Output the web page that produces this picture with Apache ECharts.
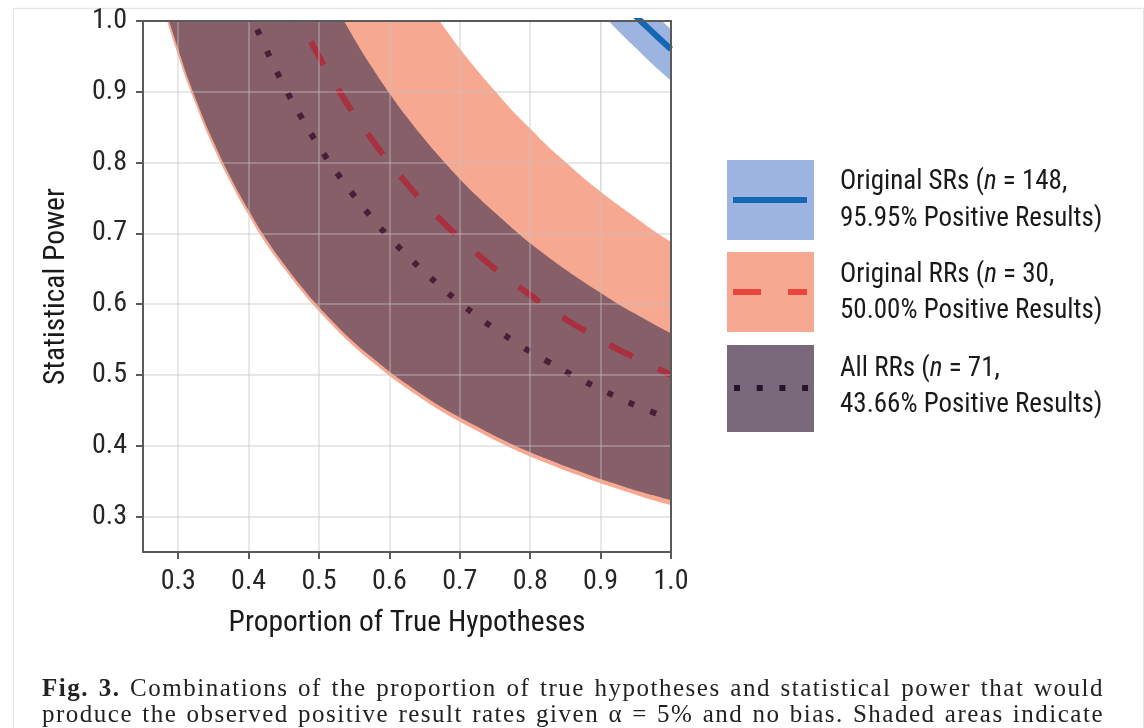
<!DOCTYPE html>
<html>
<head>
<meta charset="utf-8">
<script src="https://cdn.jsdelivr.net/npm/echarts@6/dist/echarts.min.js"></script>
<style>
  html, body { margin: 0; padding: 0; background: #fff; overflow: hidden; }
  #frame { position: absolute; left: 13px; top: 8px; width: 1129px; height: 760px;
           border: 1px solid #e4e4e4; box-shadow: 0 0 3px rgba(0,0,0,0.06); }
  #chart { position: absolute; left: 0; top: 0; width: 1144px; height: 728px; }
  .cap { position: absolute; left: 42px; width: 1062px; font-family: 'Liberation Serif', 'DejaVu Serif', serif;
         font-size: 25px; line-height: 27px; color: #222; text-align: justify; text-align-last: justify;
         letter-spacing: 1.5px; white-space: nowrap; }
</style>
</head>
<body>
<div id="frame"></div>
<div id="chart"></div>
<div class="cap" style="top:674px;"><b>Fig. 3.</b> Combinations of the proportion of true hypotheses and statistical power that would</div>
<div class="cap" style="top:700px;">produce the observed positive result rates given α = 5% and no bias. Shaded areas indicate</div>
<script>
// ---- Data ----
const piGrid = [0.25,0.275,0.3,0.325,0.35,0.375,0.4,0.425,0.45,0.475,0.5,0.525,0.55,0.575,0.6,0.625,0.65,0.675,0.7,0.725,0.75,0.775,0.8,0.825,0.85,0.875,0.9,0.925,0.95,0.975,1.0];
const rrLower   = [1.13,1.033,0.951,0.882,0.822,0.771,0.726,0.685,0.651,0.619,0.59,0.564,0.54,0.519,0.499,0.481,0.464,0.448,0.434,0.421,0.408,0.396,0.385,0.375,0.365,0.356,0.347,0.339,0.331,0.323,0.316];
const rrCenter  = [1.85,1.686,1.55,1.435,1.336,1.25,1.175,1.109,1.05,0.997,0.95,0.907,0.868,0.833,0.8,0.77,0.742,0.717,0.693,0.671,0.65,0.631,0.613,0.595,0.579,0.564,0.55,0.536,0.524,0.512,0.5];
const rrUpper   = [2.602,2.37,2.177,2.013,1.873,1.751,1.645,1.551,1.468,1.393,1.326,1.265,1.21,1.16,1.113,1.071,1.032,0.995,0.961,0.93,0.901,0.873,0.848,0.823,0.801,0.779,0.759,0.74,0.722,0.704,0.688];
const allLower  = [1.142,1.043,0.96,0.89,0.83,0.778,0.733,0.692,0.657,0.625,0.596,0.57,0.546,0.525,0.505,0.487,0.47,0.454,0.44,0.427,0.414,0.402,0.391,0.381,0.371,0.362,0.353,0.345,0.337,0.33,0.323];
const allCenter = [1.596,1.456,1.339,1.24,1.155,1.081,1.017,0.96,0.909,0.864,0.823,0.786,0.753,0.722,0.694,0.669,0.645,0.623,0.602,0.583,0.565,0.549,0.533,0.519,0.505,0.492,0.48,0.468,0.457,0.447,0.437];
const allUpper  = [2.086,1.901,1.747,1.616,1.504,1.407,1.323,1.248,1.181,1.122,1.068,1.02,0.975,0.935,0.898,0.864,0.833,0.804,0.777,0.752,0.729,0.707,0.686,0.667,0.649,0.632,0.616,0.6,0.586,0.572,0.559];
const srGrid   = [0.9,0.925,0.95,0.975,1.0];
const srLower  = [1.012,0.986,0.962,0.938,0.916];
const srCenter = [1.061,1.033,1.007,0.983,0.96];
const srUpper  = [1.092,1.064,1.037,1.012,0.988];

const xTicks = [0.3,0.4,0.5,0.6,0.7,0.8,0.9,1.0];
const yTicks = [0.3,0.4,0.5,0.6,0.7,0.8,0.9,1.0];
const xTitle = 'Proportion of True Hypotheses';
const yTitle = 'Statistical Power';

const legendTitles = ['Original SRs', 'Original RRs', 'All RRs'];
const legendN = [148, 30, 71];
const legendRates = ['95.95%', '50.00%', '43.66%'];

// ---- Build ----
const F = "'Roboto Condensed','Liberation Sans Narrow','Arial Narrow','DejaVu Sans Condensed',sans-serif";
const pairs = (xs, ys) => xs.map((x, i) => [x, ys[i]]);

// A shaded area is drawn from the bottom of the plot up to a curve; bands are
// formed by layering (upper edge filled with the band colour, lower edge re-filled
// with what lies beneath).
function fill(name, xs, ys, color) {
  return { name: name, type: 'line', data: pairs(xs, ys), symbol: 'none', smooth: true, silent: true, z: 2,
           lineStyle: { width: 0, opacity: 0 }, areaStyle: { color: color, opacity: 1, origin: 'start' } };
}

const C_BLUE = '#9db4e1', C_SALMON = '#f6a891', C_DARK = '#875f68', C_WHITE = '#ffffff';
const axisColor = '#5a5a5a';
const gridColor = 'rgba(195,195,195,0.38)';

const legendY = [160, 252, 345];
const legendH = [80, 80, 87];
const legendColors = ['#9db4e1', '#f6a891', '#7a697a'];
const graphics = [];
for (let i = 0; i < 3; i++) {
  graphics.push({ type: 'rect', left: 727, top: legendY[i], shape: { width: 87, height: legendH[i] },
                  style: { fill: legendColors[i] } });
}
graphics.push({ type: 'line', shape: { x1: 733, y1: 200, x2: 807, y2: 200 }, style: { stroke: '#1468b3', lineWidth: 6 } });
graphics.push({ type: 'line', shape: { x1: 733, y1: 292, x2: 807, y2: 292 }, style: { stroke: '#e8453c', lineWidth: 6, lineDash: [28, 27] } });
graphics.push({ type: 'line', shape: { x1: 734, y1: 388, x2: 809, y2: 388 }, style: { stroke: '#24152a', lineWidth: 6, lineDash: [6, 16.7] } });
const textY = [[182, 219], [275, 311], [369, 405]];
for (let i = 0; i < 3; i++) {
  graphics.push({ type: 'text', x: 840, y: textY[i][0],
    style: { text: '{a|' + legendTitles[i] + ' (}{i|n}{a| = ' + legendN[i] + ',}',
             rich: { a: { fontFamily: F, fontSize: 27, fill: '#1a1a1a' },
                     i: { fontFamily: F, fontSize: 27, fontStyle: 'italic', fill: '#1a1a1a' } },
             verticalAlign: 'middle', align: 'left' } });
  graphics.push({ type: 'text', x: 840, y: textY[i][1],
    style: { text: legendRates[i] + ' Positive Results)', fontFamily: F, fontSize: 27, fill: '#1a1a1a',
             verticalAlign: 'middle', align: 'left' } });
}

const chart = echarts.init(document.getElementById('chart'), null, { renderer: 'canvas' });
chart.setOption({
  animation: false,
  grid: { left: 143, right: 473, top: 21, bottom: 176, containLabel: false },
  xAxis: [
    { type: 'value', min: 0.25, max: 1.0, interval: 0.05, position: 'bottom', z: 10,
      name: xTitle, nameLocation: 'middle', nameGap: 57,
      nameTextStyle: { fontFamily: F, fontSize: 29.5, color: '#1a1a1a' },
      axisLine: { show: true, lineStyle: { color: axisColor, width: 2 } },
      axisTick: { show: true, length: 7, customValues: xTicks, lineStyle: { color: axisColor, width: 2 } },
      axisLabel: { customValues: xTicks, formatter: v => v.toFixed(1), fontFamily: F, fontSize: 28, color: '#262626', margin: 16 },
      splitLine: { show: true, lineStyle: { color: gridColor, width: 2 } } },
    { type: 'value', min: 0.25, max: 1.0, position: 'top', z: 10,
      axisLine: { show: true, lineStyle: { color: axisColor, width: 2 } },
      axisTick: { show: false }, axisLabel: { show: false }, splitLine: { show: false } }
  ],
  yAxis: [
    { type: 'value', min: 0.25, max: 1.0, interval: 0.05, position: 'left', z: 10,
      name: yTitle, nameLocation: 'middle', nameGap: 71,
      nameTextStyle: { fontFamily: F, fontSize: 29.5, color: '#1a1a1a' },
      axisLine: { show: true, lineStyle: { color: axisColor, width: 2 } },
      axisTick: { show: true, length: 7, customValues: yTicks, lineStyle: { color: axisColor, width: 2 } },
      axisLabel: { customValues: yTicks, formatter: v => v.toFixed(1), fontFamily: F, fontSize: 28, color: '#262626', margin: 16 },
      splitLine: { show: true, lineStyle: { color: gridColor, width: 2 } } },
    { type: 'value', min: 0.25, max: 1.0, position: 'right', z: 10,
      axisLine: { show: true, lineStyle: { color: axisColor, width: 2 } },
      axisTick: { show: false }, axisLabel: { show: false }, splitLine: { show: false } }
  ],
  series: [
    fill('SR upper', srGrid, srUpper, C_BLUE),
    fill('SR lower', srGrid, srLower, C_WHITE),
    fill('RR upper', piGrid, rrUpper, C_SALMON),
    fill('All upper', piGrid, allUpper, C_DARK),
    fill('All lower', piGrid, allLower, C_SALMON),
    fill('RR lower', piGrid, rrLower, C_WHITE),
    { name: 'Original RRs', type: 'line', data: pairs(piGrid, rrCenter), symbol: 'none', smooth: true, z: 4,
      lineStyle: { color: '#a8303f', width: 6, type: [26, 28], cap: 'butt' } },
    { name: 'All RRs', type: 'line', data: pairs(piGrid, allCenter), symbol: 'none', smooth: true, z: 4,
      lineStyle: { color: '#481e38', width: 6, type: [6, 17.5], cap: 'butt' } },
    { name: 'Original SRs', type: 'line', data: pairs(srGrid, srCenter), symbol: 'none', smooth: true, z: 4,
      lineStyle: { color: '#1468b3', width: 6 } }
  ],
  graphic: graphics
});
</script>
</body>
</html>
